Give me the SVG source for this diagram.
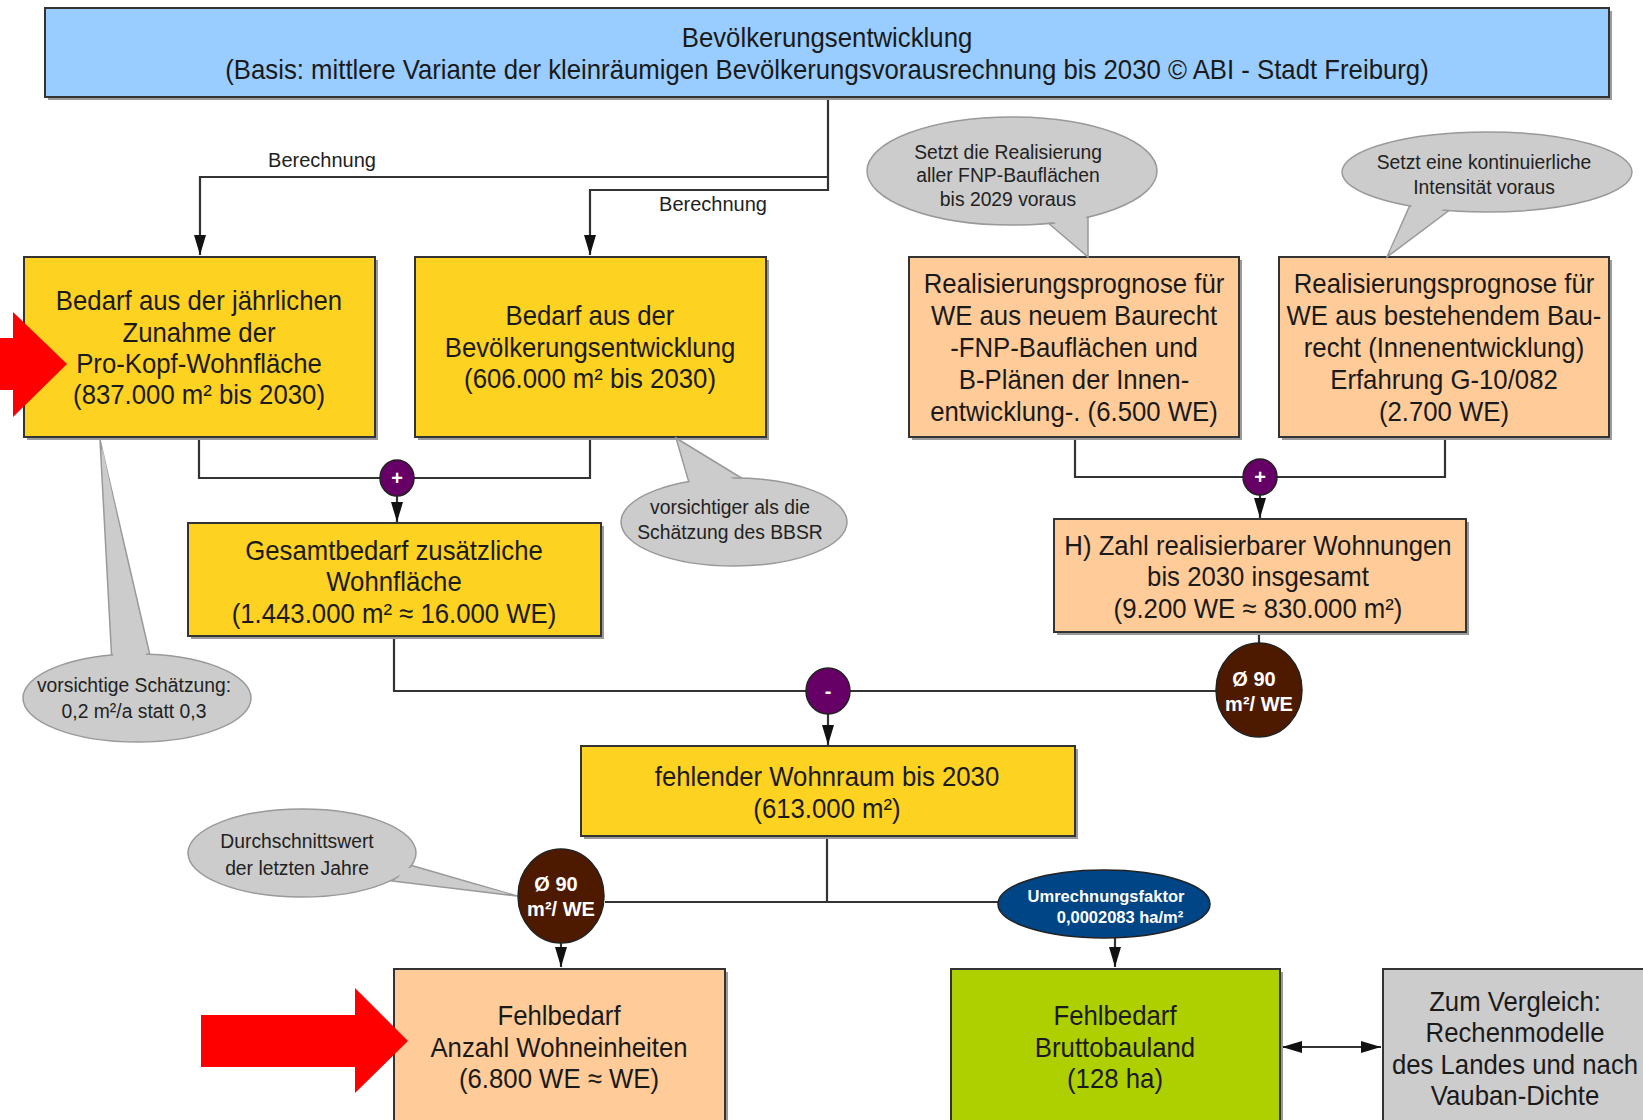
<svg xmlns="http://www.w3.org/2000/svg" width="1643" height="1120" viewBox="0 0 1643 1120">
<style>
text{font-family:"Liberation Sans",Arial,sans-serif;fill:#1a1a1a;text-anchor:middle}
.t{font-size:28px}
.c{font-size:21px;fill:#222}
.lbl{font-size:20px;fill:#222}
.w{fill:#fff;font-weight:bold}
.box{stroke:#333;stroke-width:2}
.sh{fill:#9a9a9a}
.yel{fill:#FDD220}
.pea{fill:#FFCC99}
.blu{fill:#99CCFF}
.grn{fill:#AFD000}
.gry{fill:#CCCCCC}
.bub{fill:#CCCCCC;stroke:#999;stroke-width:1.5}
.bubf{fill:#CCCCCC}
.ln{fill:none;stroke:#333;stroke-width:2.2}
.ar{marker-end:url(#ah)}
.red{fill:#FF0000}
</style>
<defs>
<marker id="ah" viewBox="0 0 20 12" refX="20" refY="6" markerWidth="20" markerHeight="12" markerUnits="userSpaceOnUse" orient="auto-start-reverse">
<path d="M0,0 L20,6 L0,12 z" fill="#111"/>
</marker>
</defs>

<g id="connectors">
<path class="ln" d="M828,97 V190 H590 V255" marker-end="url(#ah)"/>
<path class="ln" d="M828,177 H200 V255" marker-end="url(#ah)"/>
<path class="ln" d="M199,437 V478 H590 V437"/>
<path class="ln" d="M397,494 V522" marker-end="url(#ah)"/>
<path class="ln" d="M1075,437 V477 H1445 V437"/>
<path class="ln" d="M1260,494 V518" marker-end="url(#ah)"/>
<path class="ln" d="M394,636 V691 H1216"/>
<path class="ln" d="M1259,632 V644"/>
<path class="ln" d="M828,713 V745" marker-end="url(#ah)"/>
<path class="ln" d="M827,837 V902"/>
<path class="ln" d="M605,902 H998"/>
<path class="ln" d="M561,943 V967" marker-end="url(#ah)"/>
<path class="ln" d="M1115,938 V967" marker-end="url(#ah)"/>
<path class="ln" d="M1282,1047 H1381" marker-start="url(#ah)" marker-end="url(#ah)"/>
<text class="lbl" x="322" y="167">Berechnung</text>
<text class="lbl" x="713" y="211">Berechnung</text>
</g>

<g id="n-top">
<rect class="sh" x="48" y="11" width="1564" height="89"/>
<rect class="box blu" x="45" y="8" width="1564" height="89"/>
<text class="t" transform="translate(827 0) scale(.92 1)"><tspan x="0" y="47">Bevölkerungsentwicklung</tspan><tspan x="0" y="79">(Basis: mittlere Variante der kleinräumigen Bevölkerungsvorausrechnung bis 2030 © ABI - Stadt Freiburg)</tspan></text>
</g>

<g id="n-prokopf">
<rect class="sh" x="27" y="260" width="351" height="180"/>
<rect class="box yel" x="24" y="257" width="351" height="180"/>
<text class="t" transform="translate(199 0) scale(.92 1)"><tspan x="0" y="310">Bedarf aus der jährlichen</tspan><tspan x="0" y="342">Zunahme der</tspan><tspan x="0" y="373">Pro-Kopf-Wohnfläche</tspan><tspan x="0" y="404">(837.000 m² bis 2030)</tspan></text>
</g>

<g id="n-bev">
<rect class="sh" x="418" y="260" width="351" height="180"/>
<rect class="box yel" x="415" y="257" width="351" height="180"/>
<text class="t" transform="translate(590 0) scale(.92 1)"><tspan x="0" y="325">Bedarf aus der</tspan><tspan x="0" y="357">Bevölkerungsentwicklung</tspan><tspan x="0" y="388">(606.000 m² bis 2030)</tspan></text>
</g>

<g id="n-realneu">
<rect class="sh" x="912" y="260" width="330" height="180"/>
<rect class="box pea" x="909" y="257" width="330" height="180"/>
<text class="t" transform="translate(1074 0) scale(.92 1)"><tspan x="0" y="293">Realisierungsprognose für</tspan><tspan x="0" y="325">WE aus neuem Baurecht</tspan><tspan x="0" y="357">-FNP-Bauflächen und</tspan><tspan x="0" y="389">B-Plänen der Innen-</tspan><tspan x="0" y="421">entwicklung-. (6.500 WE)</tspan></text>
</g>

<g id="n-realbest">
<rect class="sh" x="1282" y="260" width="330" height="180"/>
<rect class="box pea" x="1279" y="257" width="330" height="180"/>
<text class="t" transform="translate(1444 0) scale(.92 1)"><tspan x="0" y="293">Realisierungsprognose für</tspan><tspan x="0" y="325">WE aus bestehendem Bau-</tspan><tspan x="0" y="357">recht (Innenentwicklung)</tspan><tspan x="0" y="389">Erfahrung G-10/082</tspan><tspan x="0" y="421">(2.700 WE)</tspan></text>
</g>

<g id="n-gesamt">
<rect class="sh" x="191" y="526" width="413" height="113"/>
<rect class="box yel" x="188" y="523" width="413" height="113"/>
<text class="t" transform="translate(394 0) scale(.92 1)"><tspan x="0" y="560">Gesamtbedarf zusätzliche</tspan><tspan x="0" y="591">Wohnfläche</tspan><tspan x="0" y="623">(1.443.000 m² ≈ 16.000 WE)</tspan></text>
</g>

<g id="n-zahl">
<rect class="sh" x="1057" y="522" width="412" height="113"/>
<rect class="box pea" x="1054" y="519" width="412" height="113"/>
<text class="t" transform="translate(1258 0) scale(.92 1)"><tspan x="0" y="555">H) Zahl realisierbarer Wohnungen</tspan><tspan x="0" y="586">bis 2030 insgesamt</tspan><tspan x="0" y="618">(9.200 WE ≈ 830.000 m²)</tspan></text>
</g>

<g id="n-fehlend">
<rect class="sh" x="584" y="749" width="494" height="90"/>
<rect class="box yel" x="581" y="746" width="494" height="90"/>
<text class="t" transform="translate(827 0) scale(.92 1)"><tspan x="0" y="786">fehlender Wohnraum bis 2030</tspan><tspan x="0" y="818">(613.000 m²)</tspan></text>
</g>

<g id="n-fehlWE">
<rect class="sh" x="397" y="972" width="331" height="160"/>
<rect class="box pea" x="394" y="969" width="331" height="160"/>
<text class="t" transform="translate(559 0) scale(.92 1)"><tspan x="0" y="1025">Fehlbedarf</tspan><tspan x="0" y="1057">Anzahl Wohneinheiten</tspan><tspan x="0" y="1088">(6.800 WE ≈ WE)</tspan></text>
</g>

<g id="n-brutto">
<rect class="sh" x="954" y="972" width="329" height="160"/>
<rect class="box grn" x="951" y="969" width="329" height="160"/>
<text class="t" transform="translate(1115 0) scale(.92 1)"><tspan x="0" y="1025">Fehlbedarf</tspan><tspan x="0" y="1057">Bruttobauland</tspan><tspan x="0" y="1088">(128 ha)</tspan></text>
</g>

<g id="n-vergleich">
<rect class="box gry" x="1383" y="969" width="280" height="160"/>
<text class="t" transform="translate(1515 0) scale(.92 1)"><tspan x="0" y="1011">Zum Vergleich:</tspan><tspan x="0" y="1042">Rechenmodelle</tspan><tspan x="0" y="1074">des Landes und nach</tspan><tspan x="0" y="1105">Vauban-Dichte</tspan></text>
</g>

<g id="n-plus1">
<ellipse cx="397" cy="478" rx="17" ry="18" fill="#660066" stroke="#222" stroke-width="1.5"/>
<text class="w" x="397" y="485" style="font-size:20px">+</text>
</g>
<g id="n-plus2">
<ellipse cx="1260" cy="477" rx="17" ry="18" fill="#660066" stroke="#222" stroke-width="1.5"/>
<text class="w" x="1260" y="484" style="font-size:20px">+</text>
</g>
<g id="n-minus">
<ellipse cx="828" cy="691" rx="22" ry="23" fill="#660066" stroke="#222" stroke-width="1.5"/>
<text class="w" x="828" y="698" style="font-size:20px">-</text>
</g>

<g id="n-avg1">
<ellipse cx="1259" cy="690" rx="43" ry="47" fill="#4D1A00" stroke="#222" stroke-width="1.5"/>
<text class="w" x="1254" y="686" style="font-size:20px">Ø 90</text>
<text class="w" x="1259" y="711" style="font-size:20px">m²/ WE</text>
</g>
<g id="n-avg2">
<ellipse cx="561" cy="896" rx="43" ry="47" fill="#4D1A00" stroke="#222" stroke-width="1.5"/>
<text class="w" x="556" y="891" style="font-size:20px">Ø 90</text>
<text class="w" x="561" y="916" style="font-size:20px">m²/ WE</text>
</g>
<g id="n-faktor">
<ellipse cx="1104" cy="904" rx="106" ry="34" fill="#004586" stroke="#222" stroke-width="1.5"/>
<text class="w" x="1106" y="902" style="font-size:16.5px">Umrechnungsfaktor</text>
<text class="w" x="1120" y="923" style="font-size:16.5px">0,0002083 ha/m²</text>
</g>

<g id="callout-fnp">
<polygon class="bub" points="1040,216 1088,257 1088,205"/>
<ellipse class="bub" cx="1012" cy="171" rx="145" ry="54"/>
<polygon class="bubf" points="1044,213 1087,252 1086,205"/>
<text class="c" transform="translate(1008 0) scale(.92 1)"><tspan x="0" y="159">Setzt die Realisierung</tspan><tspan x="0" y="182">aller FNP-Bauflächen</tspan><tspan x="0" y="206">bis 2029 voraus</tspan></text>
</g>
<g id="callout-kont">
<polygon class="bub" points="1410,205 1387,257 1455,206"/>
<ellipse class="bub" cx="1487" cy="172" rx="145" ry="40"/>
<polygon class="bubf" points="1413,203 1390,251 1450,204"/>
<text class="c" transform="translate(1484 0) scale(.92 1)"><tspan x="0" y="169">Setzt eine kontinuierliche</tspan><tspan x="0" y="194">Intensität voraus</tspan></text>
</g>
<g id="callout-bbsr">
<polygon class="bub" points="690,486 676,438 748,482"/>
<ellipse class="bub" cx="734" cy="522" rx="113" ry="44"/>
<polygon class="bubf" points="692,490 679,444 744,486"/>
<text class="c" transform="translate(730 0) scale(.92 1)"><tspan x="0" y="514">vorsichtiger als die</tspan><tspan x="0" y="539">Schätzung des BBSR</tspan></text>
</g>
<g id="callout-pk">
<polygon class="bub" points="112,664 100,440 152,664"/>
<ellipse class="bub" cx="137" cy="698" rx="114" ry="44"/>
<polygon class="bubf" points="114,668 102,446 149,668"/>
<text class="c" transform="translate(134 0) scale(.92 1)"><tspan x="0" y="692">vorsichtige Schätzung:</tspan><tspan x="0" y="718">0,2 m²/a statt 0,3</tspan></text>
</g>
<g id="callout-avg">
<polygon class="bub" points="410,865 517,896 392,881"/>
<ellipse class="bub" cx="302" cy="853" rx="114" ry="44"/>
<polygon class="bubf" points="405,867 510,894 398,878"/>
<text class="c" transform="translate(297 0) scale(.92 1)"><tspan x="0" y="848">Durchschnittswert</tspan><tspan x="0" y="875">der letzten Jahre</tspan></text>
</g>

<g id="red-arrow-1">
<polygon class="red" points="0,338 13,338 13,312 67,364 13,417 13,390 0,390"/>
</g>
<g id="red-arrow-2">
<polygon class="red" points="201,1015 355,1015 355,988 408,1041 355,1093 355,1067 201,1067"/>
</g>
</svg>
